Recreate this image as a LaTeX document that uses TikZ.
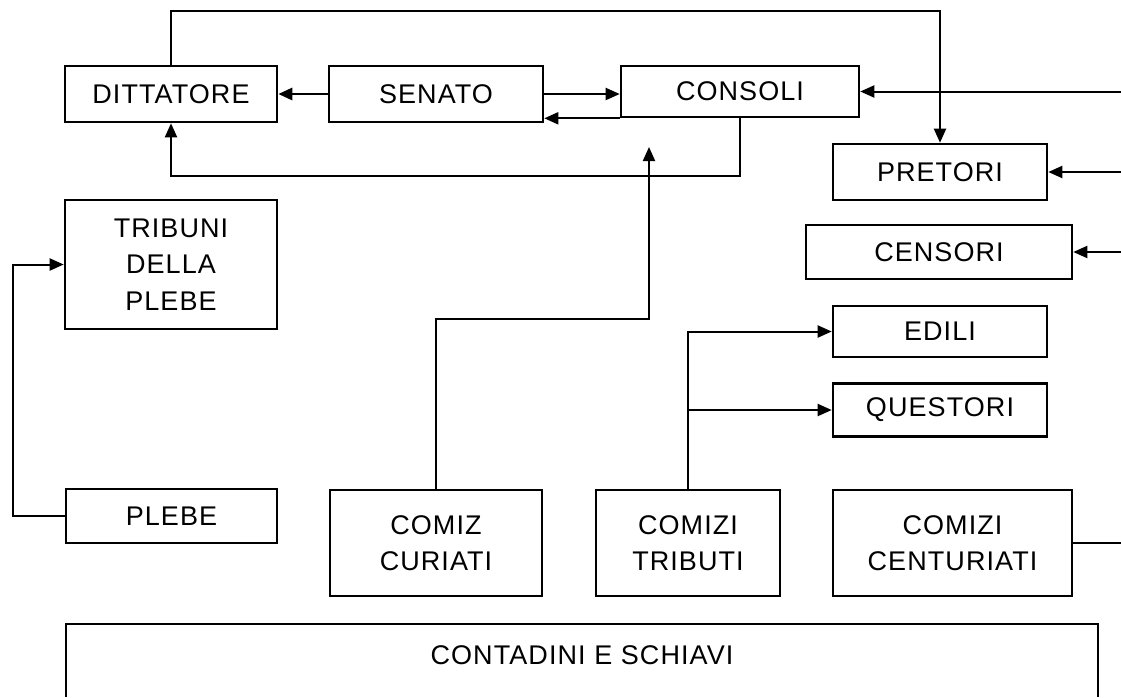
\documentclass[tikz,border=0pt]{standalone}
\usepackage{fontspec}
\setmainfont{Liberation Sans}[LetterSpace=4]
\usetikzlibrary{arrows.meta,calc}

\begin{document}
\begin{tikzpicture}[x=1pt, y=-1pt,
  every node/.style={font=\fontsize{27}{36.5}\selectfont, align=center},
  box/.style={draw, line width=2.6pt, inner sep=0pt},
  link/.style={line width=2pt},
  arr/.style={link, -{Triangle[length=14pt,width=12pt]}}]

\useasboundingbox (0,0) rectangle (1121,697);

% Top row: magistrates and senate
\node[box, minimum width=212, minimum height=56] (ditt)    at (171,94)  {DITTATORE};
\node[box, minimum width=214, minimum height=56] (senato)  at (436,94)  {SENATO};
\node[box, minimum width=238, minimum height=51] (consoli) at (740,91.5) {CONSOLI};

% Right column
\node[box, minimum width=214, minimum height=56] (pretori)  at (940,172)   {PRETORI};
\node[box, minimum width=266, minimum height=54] (censori)  at (939,252)   {CENSORI};
\node[box, minimum width=214, minimum height=51] (edili)    at (940,331.5) {EDILI};
\node[box, minimum width=214, minimum height=53] (questori) at (940,410)   {QUESTORI};

% Left column
\node[box, minimum width=212, minimum height=129] (tribuni) at (171,264.5) {TRIBUNI\\ DELLA\\ PLEBE};
\node[box, minimum width=211, minimum height=54]  (plebe)   at (171.5,516) {PLEBE};

% Assemblies
\node[box, minimum width=212, minimum height=106] (curiati)    at (436,543)   {COMIZ\\ CURIATI};
\node[box, minimum width=184, minimum height=106] (tributi)    at (688,543)   {COMIZI\\ TRIBUTI};
\node[box, minimum width=239, minimum height=106] (centuriati) at (952.5,543) {COMIZI\\ CENTURIATI};

% Bottom box, open at the lower edge
\draw[line width=2.6pt] (66,697) |- (1098,624) -- (1098,697);
\node (contadini) at (582,655) {CONTADINI E SCHIAVI};

% Free ends
\coordinate (inC)  at (1121,91.5);
\coordinate (inP)  at (1121,172);
\coordinate (inS)  at (1121,252);
\coordinate (outR) at (1121,543);
\coordinate (tipC) at (649,147);

% Connectors
\draw[arr] (ditt.north) -- ++(0,-54) -| (pretori.north);
\draw[arr, line width=2.8pt] (senato.west) -- (ditt.east);
\draw[arr] (senato.east) -- (senato.east -| consoli.west);
\draw[arr] (consoli.south west) -- (consoli.south west -| senato.east);
\draw[arr] (consoli.south) -- ++(0,58) -| (ditt.south);
\draw[arr] (inC) -- (consoli.east);
\draw[arr] (inP) -- (pretori.east);
\draw[arr] (inS) -- (censori.east);
\draw[arr] (plebe.west) -- ++(-52,0) |- (tribuni.west);
\draw[arr] (curiati.north) -- ++(0,-170) -| (tipC);
\draw[arr] (tributi.north) |- (edili.west);
\draw[arr] (tributi.north |- questori.west) -- (questori.west);
\draw[link] (centuriati.east) -- (outR);

\end{tikzpicture}
\end{document}
